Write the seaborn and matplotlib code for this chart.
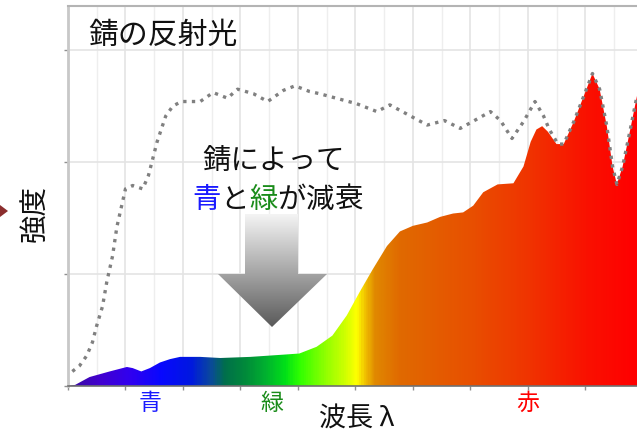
import numpy as np
import matplotlib
matplotlib.use('Agg')
import matplotlib.pyplot as plt
import seaborn as sns
import pandas as pd
from matplotlib.colors import LinearSegmentedColormap
from matplotlib.patches import Polygon

# ---------------- data ----------------
fill_wl = [380, 385, 395, 409, 421, 425, 431, 437, 444, 451, 458, 472, 486, 507,
           530, 541, 553, 564, 574, 583, 592, 602, 611, 620, 630, 639, 648, 655,
           662, 669, 679, 690, 697, 702, 706, 710, 714, 720, 725, 732, 739, 745,
           750, 755, 759, 762, 766, 771, 776]
fill_val = [0.00, 0.01, 0.08, 0.13, 0.17, 0.16, 0.13, 0.16, 0.21, 0.24, 0.26, 0.26,
            0.25, 0.26, 0.28, 0.29, 0.35, 0.45, 0.63, 0.84, 1.04, 1.25, 1.38, 1.43,
            1.46, 1.51, 1.54, 1.55, 1.61, 1.73, 1.80, 1.81, 1.96, 2.18, 2.29, 2.32,
            2.27, 2.16, 2.16, 2.36, 2.59, 2.79, 2.65, 2.32, 1.96, 1.80, 1.96, 2.27,
            2.59]

line_wl = [383, 388, 393, 397, 400, 404, 407, 411, 414, 420, 425, 432, 436, 442,
           448, 453, 459, 472, 481, 491, 498, 509, 519, 530, 538, 548, 555, 581,
           595, 604, 630, 642, 653, 674, 681, 689, 697, 705, 711, 715, 721, 725,
           732, 739, 745, 750, 755, 759, 762, 766, 771, 776]
line_val = [0.13, 0.18, 0.27, 0.39, 0.54, 0.71, 0.93, 1.16, 1.42, 1.76, 1.79, 1.76,
            1.88, 2.18, 2.41, 2.50, 2.54, 2.54, 2.62, 2.57, 2.65, 2.61, 2.54, 2.64,
            2.68, 2.63, 2.61, 2.52, 2.45, 2.51, 2.33, 2.37, 2.30, 2.45, 2.37, 2.21,
            2.36, 2.54, 2.41, 2.29, 2.16, 2.16, 2.36, 2.59, 2.79, 2.65, 2.32, 1.96,
            1.80, 1.96, 2.27, 2.59]

color_labels = ['青', '緑', '赤']
color_label_wl = [437, 522, 700]
color_label_colors = ['#1a1aff', '#1a8c1a', '#ff0000']

spectrum_pos = [380, 402, 423, 444, 465, 479, 489, 503, 517, 531, 541, 559, 573,
                581, 587, 594, 611, 660, 701, 743, 776]
spectrum_col = ['#3a0ca0', '#4200d0', '#3000f0', '#0808ff', '#0018e0', '#0a4a9a',
                '#00704a', '#008a3a', '#00b030', '#00e018', '#30ff00', '#90ff00',
                '#d0ff00', '#ffff00', '#f0c000', '#e08800', '#e06a00', '#e85000',
                '#f03400', '#fa1000', '#ff0000']

XMIN, XMAX = 380, 776
YMAX = 380 / 112

# ---------------- figure ----------------
sns.set_theme(style='white')
plt.rcParams['font.family'] = ['Noto Sans CJK JP', 'DejaVu Sans']

W, H = 637, 439
fig = plt.figure(figsize=(W / 100, H / 100), dpi=100)
ax = fig.add_axes([68 / W, 1 - 387 / H, (637 - 68) / W, (387 - 7) / H])

def p2d(x, y):
    return (XMIN + (x - 68) / 569 * (XMAX - XMIN), (387 - y) / 112)

# gradient spectrum fill
cpos = [(p - XMIN) / (XMAX - XMIN) for p in spectrum_pos]
cmap = LinearSegmentedColormap.from_list('spec', list(zip(cpos, spectrum_col)))
grad = np.linspace(0, 1, 600)[None, :]
im = ax.imshow(grad, extent=[XMIN, XMAX, 0, YMAX], aspect='auto', cmap=cmap,
               origin='lower', zorder=2, interpolation='bilinear')
verts = list(zip(fill_wl, fill_val)) + [(XMAX, 0), (XMIN, 0)]
clip = Polygon(verts, closed=True, facecolor='none', edgecolor='none',
               transform=ax.transData)
ax.add_patch(clip)
im.set_clip_path(clip)

# dotted reflection line
df = pd.DataFrame({'wl': line_wl, 'v': line_val})
sns.lineplot(data=df, x='wl', y='v', ax=ax, color='#808080', linewidth=2.4,
             zorder=3)
ax.lines[-1].set_linestyle((0, (1, 1.6)))
ax.lines[-1].set_dash_capstyle('butt')
ax.lines[-1].set_solid_joinstyle('round')

# gradient arrow
arrow_px = [(245, 215), (298, 215), (298, 275), (327, 275), (272, 328),
            (218, 275), (245, 275)]
arrow_d = [p2d(*p) for p in arrow_px]
ax_x0, _ = p2d(218, 0)
ax_x1, _ = p2d(327, 0)
_, ay_top = p2d(0, 215)
_, ay_bot = p2d(0, 328)
acmap = LinearSegmentedColormap.from_list('ag', ['#5a5a5a', '#a8a8a8', '#f4f4f4'])
aim = ax.imshow(np.linspace(0, 1, 200)[:, None], extent=[ax_x0, ax_x1, ay_bot, ay_top],
                aspect='auto', cmap=acmap, origin='lower', zorder=4)
apoly = Polygon(arrow_d, closed=True, facecolor='none', edgecolor='none',
                transform=ax.transData)
ax.add_patch(apoly)
aim.set_clip_path(apoly)

# axes styling
ax.set_xlim(XMIN, XMAX)
ax.set_ylim(0, YMAX)
ax.set_xticks(np.arange(380, 777, 40))
ax.set_xticks(np.arange(400, 777, 40), minor=True)
ax.set_yticks([0, 1, 2, 3])
ax.set_xticklabels([])
ax.set_yticklabels([])
ax.set_xlabel('')
ax.set_ylabel('')
ax.set_axisbelow(True)
ax.grid(which='major', axis='both', color='#e4e4e4', linewidth=1.2)
ax.grid(which='minor', axis='x', color='#eeeeee', linewidth=1.0)
ax.tick_params(axis='x', which='major', bottom=True, length=3, width=1, color='#909090')
ax.tick_params(axis='x', which='minor', bottom=False)
ax.tick_params(axis='y', left=True, length=3, width=1, color='#909090')
ax.spines['right'].set_visible(False)
ax.spines['top'].set_color('#b4b4b4')
ax.spines['top'].set_linewidth(1.5)
ax.spines['left'].set_color('#c8c8c8')
ax.spines['left'].set_linewidth(2)
ax.spines['bottom'].set_color('#707070')
ax.spines['bottom'].set_linewidth(1.2)
ax.spines['bottom'].set_zorder(5)

# texts
def ft(x, y, s, **kw):
    fig.text(x / W, 1 - y / H, s, **kw)

ft(88, 35, '錆の反射光', ha='left', va='center', fontsize=21.5, color='#111111')
ft(274, 161, '錆によって', ha='center', va='center', fontsize=20.5, color='#111111')
chars = ['青', 'と', '緑', 'が', '減', '衰']
ccols = ['#1a1aff', '#111111', '#1a8c1a', '#111111', '#111111', '#111111']
for i, (c, col) in enumerate(zip(chars, ccols)):
    ft(192 + 28.5 * (i + 0.5), 200, c, ha='center', va='center', fontsize=20.5,
       color=col)
ft(35, 213, '強度', ha='center', va='center', rotation=90, fontsize=20.5,
   color='#111111')
ft(357, 419, '波長 λ', ha='center', va='center', fontsize=19.5, color='#111111')
for lab, wl, col in zip(color_labels, color_label_wl, color_label_colors):
    ax.text(wl, -0.15, lab, ha='center', va='center', fontsize=16.5, color=col,
            clip_on=False)

# small dark-red arrow head at the left edge
tri = [(0, 206), (8, 212), (0, 218)]
fig.add_artist(Polygon([(x / W, 1 - y / H) for x, y in tri], closed=True,
                       facecolor='#8b2e2e', edgecolor='none',
                       transform=fig.transFigure))

fig.savefig('out.png', dpi=100)
